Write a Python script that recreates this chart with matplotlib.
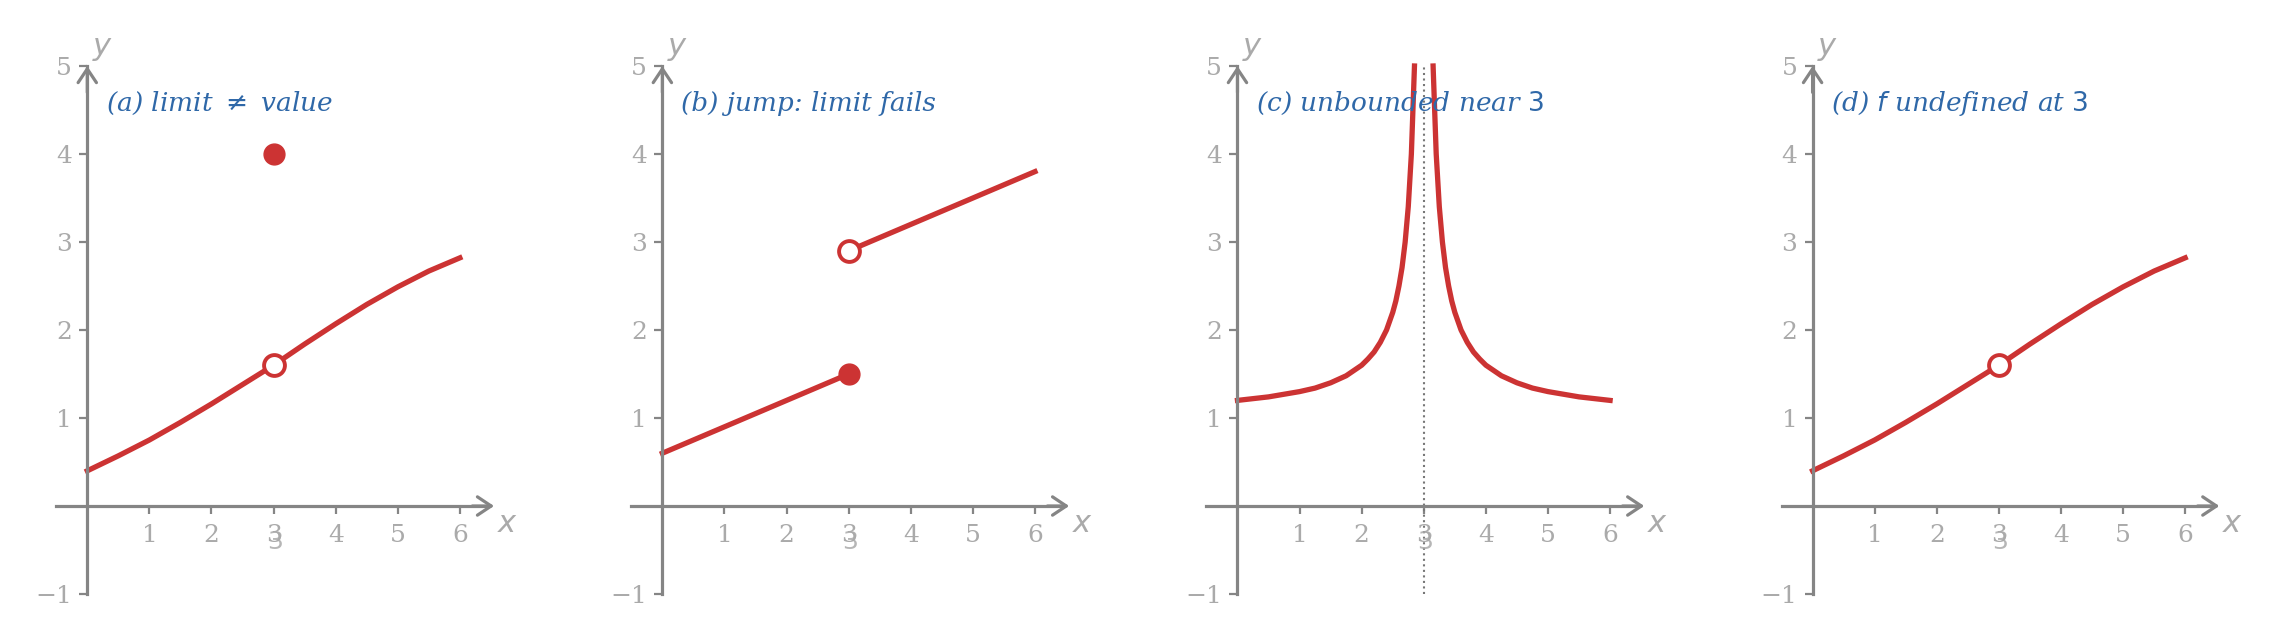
import matplotlib
matplotlib.use('Agg')
import matplotlib.pyplot as plt

# Panel (a) and (d): smooth curve
curve_x = [0, 0.5, 1, 1.5, 2, 2.5, 3, 3.5, 4, 4.5, 5, 5.5, 6]
curve_y = [0.40, 0.57, 0.75, 0.95, 1.16, 1.38, 1.60, 1.84, 2.07, 2.29, 2.49, 2.67, 2.82]
hole_a = (3, 1.6)
value_a = (3, 4.0)

# Panel (b): jump
left_x = [0, 3]
left_y = [0.6, 1.5]
right_x = [3, 6]
right_y = [2.9, 3.8]

# Panel (c): vertical asymptote at x = 3
asym_left_x = [0, 0.25, 0.5, 0.75, 1, 1.25, 1.5, 1.75, 2, 2.1, 2.2, 2.3, 2.4,
               2.5, 2.55, 2.6, 2.65, 2.7, 2.75, 2.8, 2.85]
asym_left_y = [1.20, 1.22, 1.24, 1.27, 1.30, 1.34, 1.40, 1.48, 1.60, 1.67, 1.75,
               1.86, 2.00, 2.20, 2.33, 2.50, 2.71, 3.00, 3.40, 4.00, 5.00]
asym_right_x = [3.15, 3.2, 3.25, 3.3, 3.35, 3.4, 3.45, 3.5, 3.6, 3.7, 3.8, 3.9,
                4, 4.25, 4.5, 4.75, 5, 5.25, 5.5, 5.75, 6]
asym_right_y = [5.00, 4.00, 3.40, 3.00, 2.71, 2.50, 2.33, 2.20, 2.00, 1.86, 1.75,
                1.67, 1.60, 1.48, 1.40, 1.34, 1.30, 1.27, 1.24, 1.22, 1.20]

titles = [r'(a) limit $\neq$ value', '(b) jump: limit fails',
          r'(c) unbounded near $3$', r'(d) $f$ undefined at $3$']
xticks = [1, 2, 3, 4, 5, 6]
yticks = [-1, 1, 2, 3, 4, 5]

RED = '#cc3333'
BLUE = '#2f68a8'
AXG = '#858585'
LBL = '#aaaaaa'

fig = plt.figure(figsize=(22.77, 6.43), dpi=100)
W, H = 2277, 643

axes = []
for i in range(4):
    left = (40.7 + 575.1 * i) / W
    ax = fig.add_axes([left, 31.4 / H, 481.3 / W, 598.4 / H])
    ax.set_xlim(-0.75, 7.0)
    ax.set_ylim(-1.2, 5.6)
    for s in ['top', 'right']:
        ax.spines[s].set_visible(False)
    ax.spines['left'].set_position(('data', 0))
    ax.spines['bottom'].set_position(('data', 0))
    ax.spines['left'].set_bounds(-1, 5)
    ax.spines['bottom'].set_bounds(-0.5, 6.4)
    for s in ['left', 'bottom']:
        ax.spines[s].set_color(AXG)
        ax.spines[s].set_linewidth(2.3)
    ax.set_xticks(xticks)
    ax.set_yticks(yticks)
    ax.set_xticklabels([str(t) for t in xticks], family='DejaVu Serif', fontsize=18)
    ax.set_yticklabels(['\u22121' if t < 0 else str(t) for t in yticks],
                       family='DejaVu Serif', fontsize=18)
    ax.tick_params(direction='out', length=6, width=1.6, color=AXG, labelcolor=LBL,
                   pad=5)
    ax.tick_params(axis='x', pad=7)
    # arrow heads
    ax.annotate('', xy=(6.55, 0), xytext=(6.2, 0),
                arrowprops=dict(arrowstyle='->,head_length=0.45,head_width=0.3',
                                color=AXG, lw=2.3, mutation_scale=22, shrinkA=0, shrinkB=0))
    ax.annotate('', xy=(0, 5.0), xytext=(0, 4.7),
                arrowprops=dict(arrowstyle='->,head_length=0.45,head_width=0.3',
                                color=AXG, lw=2.3, mutation_scale=22, shrinkA=0, shrinkB=0))
    ax.text(6.6, -0.2, '$x$', color=LBL, fontsize=22, ha='left', va='center')
    ax.text(0.07, 5.03, '$y$', color=LBL, fontsize=22, ha='left', va='bottom')
    # second "3" under the tick
    ax.text(3.02, -0.27, '3', color=LBL, fontsize=18, ha='center', va='top',
            family='DejaVu Sans', alpha=0.85)
    ax.text(0.3, 4.57, titles[i], color=BLUE, fontsize=19, ha='left', va='center',
            family='DejaVu Serif', style='italic')
    axes.append(ax)

# (a)
ax = axes[0]
ax.plot(curve_x, curve_y, color=RED, lw=3.8)
ax.plot(*hole_a, 'o', ms=15, mfc='white', mec=RED, mew=2.8)
ax.plot(*value_a, 'o', ms=15, color=RED)

# (b)
ax = axes[1]
ax.plot(left_x, left_y, color=RED, lw=3.8)
ax.plot(right_x, right_y, color=RED, lw=3.8)
ax.plot(left_x[-1], left_y[-1], 'o', ms=15, color=RED)
ax.plot(right_x[0], right_y[0], 'o', ms=15, mfc='white', mec=RED, mew=2.8)

# (c)
ax = axes[2]
ax.plot([3, 3], [-1, 5], color='#777777', lw=1.5, ls=':')
ax.plot(asym_left_x, asym_left_y, color=RED, lw=3.8)
ax.plot(asym_right_x, asym_right_y, color=RED, lw=3.8)

# (d)
ax = axes[3]
ax.plot(curve_x, curve_y, color=RED, lw=3.8)
ax.plot(*hole_a, 'o', ms=15, mfc='white', mec=RED, mew=2.8)

fig.savefig('out.png', dpi=100)
